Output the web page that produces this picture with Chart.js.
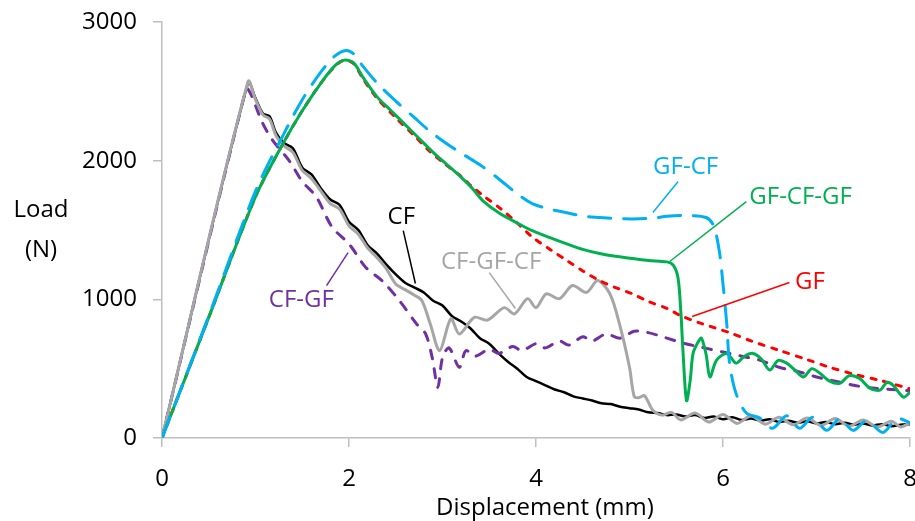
<!DOCTYPE html>
<html>
<head>
<meta charset="utf-8">
<script src="https://cdn.jsdelivr.net/npm/chart.js@4/dist/chart.umd.min.js"></script>
<style>
  html, body { margin: 0; padding: 0; background: #fff; }
  #wrap { width: 915px; height: 521px; }
</style>
</head>
<body>
<div id="wrap"><canvas id="loadChart" width="915" height="521"></canvas></div>
<script>
// Load vs displacement curves
const xTicks = [0, 2, 4, 6, 8];
const yTicks = [0, 1000, 2000, 3000];

const cfX = [0, 0.92, 1.0, 1.08, 1.15, 1.22, 1.3, 1.4, 1.5, 1.6, 1.7, 1.8, 1.9, 2.0, 2.1, 2.2, 2.3, 2.4, 2.5, 2.6, 2.7, 2.8, 2.9, 3.0, 3.1, 3.2, 3.3, 3.4, 3.5, 3.6, 3.7, 3.8, 3.9, 4.0, 4.1, 4.2, 4.3, 4.4, 4.5, 4.6, 4.7, 4.8, 4.9, 5.0, 5.1, 5.2, 5.3, 5.4, 5.5, 5.6, 5.7, 5.8, 5.9, 6.0, 6.1, 6.2, 6.3, 6.4, 6.5, 6.6, 6.7, 6.8, 6.9, 7.0, 7.1, 7.2, 7.3, 7.4, 7.5, 7.6, 7.7, 7.8, 7.9, 8.0];
const cfY = [0, 2565, 2450, 2340, 2320, 2200, 2130, 2090, 1950, 1900, 1800, 1720, 1680, 1560, 1500, 1390, 1330, 1250, 1180, 1120, 1085, 1050, 990, 955, 880, 840, 790, 720, 680, 610, 550, 500, 440, 410, 380, 350, 330, 300, 285, 270, 250, 245, 225, 215, 205, 185, 180, 165, 170, 155, 165, 145, 155, 135, 150, 130, 140, 125, 135, 115, 125, 110, 120, 105, 115, 100, 110, 95, 105, 90, 100, 85, 95, 100];

const cfgfcfX = [0, 0.92, 1.0, 1.08, 1.15, 1.22, 1.3, 1.4, 1.5, 1.6, 1.7, 1.8, 1.9, 2.0, 2.1, 2.2, 2.3, 2.4, 2.5, 2.6, 2.7, 2.78, 2.87, 2.97, 3.09, 3.18, 3.34, 3.48, 3.66, 3.77, 3.91, 4.0, 4.11, 4.25, 4.39, 4.54, 4.66, 4.79, 4.89, 5.0, 5.05, 5.1, 5.16, 5.25, 5.35, 5.45, 5.55, 5.7, 5.85, 6.0, 6.15, 6.3, 6.45, 6.6, 6.75, 6.9, 7.05, 7.2, 7.35, 7.5, 7.65, 7.8, 7.9, 8.0];
const cfgfcfY = [0, 2570, 2440, 2330, 2300, 2180, 2110, 2060, 1930, 1870, 1780, 1690, 1650, 1530, 1470, 1370, 1300, 1220, 1110, 1070, 1030, 990, 820, 630, 860, 750, 870, 850, 940, 895, 1005, 940, 1040, 1005, 1100, 1050, 1135, 1040, 830, 510, 300, 290, 306, 200, 165, 185, 130, 180, 115, 170, 105, 160, 100, 150, 95, 145, 90, 140, 85, 130, 80, 120, 80, 110];

const cfgfX = [0, 0.9, 0.95, 1.07, 1.18, 1.36, 1.5, 1.65, 1.82, 2.0, 2.18, 2.36, 2.54, 2.72, 2.82, 2.89, 2.95, 3.0, 3.07, 3.18, 3.25, 3.35, 3.5, 3.6, 3.75, 3.85, 4.0, 4.1, 4.25, 4.35, 4.5, 4.6, 4.75, 4.9, 5.05, 5.2, 5.4, 5.6, 5.8, 6.0, 6.2, 6.4, 6.6, 6.8, 7.0, 7.2, 7.4, 7.6, 7.8, 8.0];
const cfgfY = [0, 2520, 2480, 2280, 2150, 2000, 1850, 1740, 1520, 1400, 1230, 1130, 990, 825, 750, 580, 365, 580, 650, 510, 630, 590, 640, 610, 660, 630, 680, 650, 700, 670, 730, 700, 750, 720, 770, 760, 720, 680, 650, 620, 590, 560, 510, 480, 440, 410, 380, 360, 350, 340];

const gfX = [0, 0.5, 1.0, 1.3, 1.5, 1.7, 1.85, 1.95, 2.05, 2.15, 2.3, 2.5, 2.7, 2.86, 3.0, 3.21, 3.32, 3.45, 3.61, 3.8, 3.96, 4.15, 4.33, 4.5, 4.68, 4.85, 5.03, 5.2, 5.4, 5.54, 5.75, 6.07, 6.3, 6.61, 6.9, 7.14, 7.4, 7.68, 8.0];
const gfY = [0, 870, 1740, 2130, 2360, 2560, 2680, 2725, 2700, 2590, 2450, 2310, 2180, 2070, 1990, 1880, 1810, 1740, 1660, 1550, 1450, 1360, 1280, 1205, 1135, 1085, 1040, 985, 935, 885, 830, 760, 700, 630, 565, 510, 460, 415, 355];

const gfcfgfX = [0, 0.5, 1.0, 1.3, 1.5, 1.7, 1.85, 1.95, 2.05, 2.15, 2.3, 2.45, 2.6, 2.75, 2.9, 3.05, 3.2, 3.32, 3.43, 3.61, 3.8, 3.96, 4.15, 4.33, 4.5, 4.68, 4.85, 5.03, 5.2, 5.4, 5.47, 5.52, 5.55, 5.57, 5.61, 5.65, 5.68, 5.74, 5.77, 5.82, 5.86, 5.93, 6.04, 6.14, 6.23, 6.32, 6.41, 6.5, 6.59, 6.68, 6.77, 6.86, 6.95, 7.03, 7.14, 7.25, 7.35, 7.46, 7.57, 7.68, 7.75, 7.82, 7.93, 8.0];
const gfcfgfY = [0, 870, 1740, 2130, 2360, 2560, 2685, 2725, 2705, 2600, 2460, 2360, 2260, 2160, 2060, 1970, 1880, 1800, 1712, 1620, 1550, 1495, 1445, 1400, 1360, 1330, 1310, 1295, 1280, 1270, 1245, 1150, 900, 650, 270, 420, 610, 700, 720, 600, 440, 560, 610, 540, 590, 610, 570, 490, 560, 540, 490, 440, 500, 470, 410, 395, 450, 430, 360, 345, 400, 380, 295, 330];

const gfcfX = [0, 0.5, 1.0, 1.3, 1.5, 1.7, 1.85, 1.97, 2.05, 2.15, 2.3, 2.5, 2.7, 2.86, 3.05, 3.21, 3.4, 3.6, 3.8, 3.96, 4.15, 4.33, 4.5, 4.68, 4.85, 5.03, 5.25, 5.4, 5.61, 5.82, 5.9, 5.96, 6.0, 6.04, 6.07, 6.14, 6.25, 6.39, 6.53, 6.68, 6.82, 6.96, 7.11, 7.25, 7.39, 7.54, 7.71, 7.86, 8.0];
const gfcfY = [0, 880, 1780, 2190, 2440, 2640, 2755, 2795, 2770, 2680, 2560, 2430, 2310, 2215, 2120, 2050, 1970, 1870, 1760, 1690, 1650, 1625, 1600, 1590, 1583, 1580, 1585, 1600, 1605, 1590, 1530, 1350, 1110, 825, 540, 320, 180, 145, 70, 160, 70, 150, 55, 140, 55, 125, 40, 140, 110];

const seriesNames = ['CF', 'CF-GF', 'CF-GF-CF', 'GF', 'GF-CF-GF', 'GF-CF'];
const seriesColors = ['#000000', '#7030A0', '#A6A6A6', '#FF0000', '#00B050', '#00B0F0'];

// callout labels: [text, label x, label y, leader from x, y, leader to x, y] in data units
const callouts = [
  ['GF-CF', 5.6, 1950, 5.52, 1850, 5.25, 1626],
  ['GF-CF-GF', 6.83, 1734, 6.25, 1705, 5.43, 1273],
  ['GF', 6.93, 1121, 6.71, 1121, 5.67, 876],
  ['CF', 2.56, 1590, 2.58, 1496, 2.71, 1114],
  ['CF-GF', 1.49, 991, 1.76, 1099, 1.99, 1337],
  ['CF-GF-CF', 3.52, 1265, 3.5, 1193, 3.78, 934]
];
const calloutColors = ['#00B0F0', '#00B050', '#FF0000', '#000000', '#7030A0', '#A6A6A6'];

const FONT = "'Open Sans', 'Noto Sans', sans-serif";

function toPoints(xs, ys) {
  return xs.map((x, i) => ({ x: x, y: ys[i] }));
}

// keep the edge tick labels from shrinking the plot area
function noLabelPadding(scale) {
  scale.paddingLeft = 0;
  scale.paddingRight = 0;
  scale.paddingTop = 0;
  scale.paddingBottom = 0;
}

const calloutPlugin = {
  id: 'callouts',
  afterDatasetsDraw(chart) {
    const ctx = chart.ctx;
    const xs = chart.scales.x, ys = chart.scales.y;
    ctx.save();
    ctx.font = '24px ' + FONT;
    ctx.textAlign = 'center';
    ctx.textBaseline = 'middle';
    callouts.forEach((c, i) => {
      ctx.strokeStyle = calloutColors[i];
      ctx.lineWidth = 1.5;
      ctx.beginPath();
      ctx.moveTo(xs.getPixelForValue(c[3]), ys.getPixelForValue(c[4]));
      ctx.lineTo(xs.getPixelForValue(c[5]), ys.getPixelForValue(c[6]));
      ctx.stroke();
      ctx.fillStyle = calloutColors[i];
      ctx.fillText(c[0], xs.getPixelForValue(c[1]), ys.getPixelForValue(c[2]));
    });
    // axis titles
    const area = chart.chartArea;
    ctx.fillStyle = '#000';
    ctx.fillText('Displacement (mm)', (area.left + area.right) / 2 + 9, area.bottom + 70);
    ctx.fillText('Load', 41, ys.getPixelForValue(1640));
    ctx.fillText('(N)', 41, ys.getPixelForValue(1355));
    ctx.restore();
  }
};

const dashes = [[], [9, 10], [], [5, 8], [], [22, 13]];
const widths = [2.5, 3, 3, 3, 3, 3];
const xsets = [cfX, cfgfX, cfgfcfX, gfX, gfcfgfX, gfcfX];
const ysets = [cfY, cfgfY, cfgfcfY, gfY, gfcfgfY, gfcfY];

const datasets = seriesNames.map((name, i) => ({
  label: name,
  data: toPoints(xsets[i], ysets[i]),
  borderColor: seriesColors[i],
  borderWidth: widths[i],
  borderDash: dashes[i],
  borderCapStyle: dashes[i].length ? 'round' : 'butt',
  borderJoinStyle: 'round',
  pointRadius: 0,
  tension: 0.3,
  fill: false,
  order: 6 - i
}));

new Chart(document.getElementById('loadChart').getContext('2d'), {
  type: 'line',
  data: { datasets: datasets },
  options: {
    responsive: false,
    animation: false,
    layout: { autoPadding: false, padding: { top: 22, right: 5, left: 0, bottom: 0 } },
    plugins: { legend: { display: false }, tooltip: { enabled: false } },
    scales: {
      x: {
        type: 'linear',
        min: 0,
        max: 8,
        afterBuildTicks: (scale) => { scale.ticks = xTicks.map(v => ({ value: v })); },
        afterFit: (scale) => { scale.height = 83; noLabelPadding(scale); },
        ticks: { color: '#000', font: { size: 24, family: FONT }, padding: 18, maxRotation: 0, callback: v => String(v) },
        grid: { drawOnChartArea: false, color: '#BFBFBF', tickLength: 9, lineWidth: 1.5 },
        border: { color: '#BFBFBF', width: 1.5 }
      },
      y: {
        min: 0,
        max: 3000,
        afterBuildTicks: (scale) => { scale.ticks = yTicks.map(v => ({ value: v })); },
        afterFit: (scale) => { scale.width = 162; noLabelPadding(scale); },
        ticks: { color: '#000', font: { size: 24, family: FONT }, padding: 16, callback: v => String(v) },
        grid: { drawOnChartArea: false, color: '#BFBFBF', tickLength: 9, lineWidth: 1.5 },
        border: { color: '#BFBFBF', width: 1.5 }
      }
    }
  },
  plugins: [calloutPlugin]
});
</script>
</body>
</html>
